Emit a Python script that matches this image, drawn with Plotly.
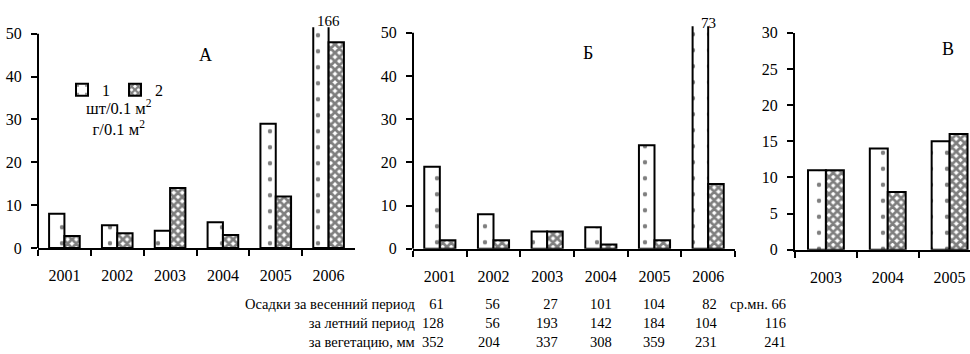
import plotly.graph_objects as go

W, H = 970, 354

years_ab = ["2001", "2002", "2003", "2004", "2005", "2006"]
years_c = ["2003", "2004", "2005"]
a_count = [8, 5.3, 4, 6, 29, 166]
a_mass = [2.8, 3.4, 14, 3, 12, 48]
b_count = [19, 8, 4, 5, 24, 73]
b_mass = [2, 2, 4, 1, 2, 15]
c_count = [11, 14, 15]
c_mass = [11, 8, 16]
panel_labels = ["А", "Б", "В"]
legend_names = ["1", "2"]
unit_lines = ["шт/0.1 м<sup>2</sup>", "г/0.1 м<sup>2</sup>"]
row_labels = ["Осадки за весенний период", "за летний период", "за вегетацию, мм"]
precip_spring = [61, 56, 27, 101, 104, 82]
precip_summer = [128, 56, 193, 142, 184, 104]
precip_veg = [352, 204, 337, 308, 359, 231]
mean_label = "ср.мн."
precip_means = [66, 116, 241]


def px(x):
    return x / W


def py(y):
    return 1 - y / H


SERIF = "Liberation Serif, Times New Roman, serif"
TABLE_FONT = dict(family=SERIF, size=14.5, color="black")

pat1 = dict(shape=".", fgcolor="black", bgcolor="white", size=16, solidity=0.06)
pat2 = dict(shape="x", fgcolor="black", bgcolor="white", size=6, solidity=0.7)

fig = go.Figure()
panels = [
    ("x", "y", years_ab, a_count, a_mass, True),
    ("x2", "y2", years_ab, b_count, b_mass, False),
    ("x3", "y3", years_c, c_count, c_mass, False),
]
for xa, ya, cats, s1, s2, show in panels:
    fig.add_trace(go.Bar(x=cats, y=s1, xaxis=xa, yaxis=ya, name=legend_names[0],
                         showlegend=show, legendgroup="1",
                         marker=dict(color="white", pattern=pat1,
                                     line=dict(color="black", width=2))))
    fig.add_trace(go.Bar(x=cats, y=s2, xaxis=xa, yaxis=ya, name=legend_names[1],
                         showlegend=show, legendgroup="2",
                         marker=dict(color="white", pattern=pat2,
                                     line=dict(color="black", width=2))))

tickfont = dict(family=SERIF, size=16, color="black")
xcommon = dict(type="category", showline=True, linecolor="black", linewidth=2,
               ticks="outside", tickson="boundaries", ticklen=6, tickwidth=2,
               tickcolor="black", tickfont=tickfont, showgrid=False,
               zeroline=False, ticklabelstandoff=12)
ycommon = dict(ticks="outside", ticklen=6, tickwidth=1.5, tickcolor="black",
               tickfont=tickfont, showgrid=False, zeroline=False,
               ticklabelstandoff=6, linecolor="black", linewidth=2)

fig.update_layout(
    width=W, height=H,
    margin=dict(l=0, r=0, t=0, b=0),
    paper_bgcolor="white", plot_bgcolor="white",
    font=dict(family=SERIF, color="black"),
    barmode="group", bargap=0.42, bargroupgap=0,
    xaxis=dict(xcommon, domain=[px(38), px(355)], anchor="y"),
    xaxis2=dict(xcommon, domain=[px(413), px(735)], anchor="y2"),
    xaxis3=dict(xcommon, domain=[px(795), px(970)], anchor="y3", range=[-0.5, 2.33]),
    yaxis=dict(ycommon, domain=[py(252), py(20.25)], range=[0, 51.5], dtick=10,
               anchor="x", showline=False),
    yaxis2=dict(ycommon, domain=[py(253), py(19.2)], range=[0, 51.5], dtick=10,
                anchor="x2", showline=False),
    yaxis3=dict(ycommon, domain=[py(254), py(26)], range=[0, 30], dtick=5,
                anchor="x3", showline=True),
    legend=dict(orientation="h", x=px(62), y=py(86), xanchor="left", yanchor="middle",
                font=dict(family=SERIF, size=16, color="black"),
                bgcolor="rgba(0,0,0,0)", itemwidth=30),
    showlegend=True,
)

# y-axis lines that stop at 50 (bars exceeding are cut)
for xr, yr in [("x domain", "y"), ("x2 domain", "y2")]:
    fig.add_shape(type="line", xref=xr, yref=yr, x0=0, x1=0, y0=0, y1=50,
                  line=dict(color="black", width=2))


def note(text, x, y, font, xanchor="center", xref="paper", align="center"):
    return dict(text=text, x=x, y=y, xref=xref, yref="paper", xanchor=xanchor,
                yanchor="middle", showarrow=False, font=font, borderpad=0, align=align)


ann = []
for lab, (xx, yy) in zip(panel_labels, [(205, 49), (588, 47), (948, 43)]):
    ann.append(note(lab, px(xx), py(yy), dict(family=SERIF, size=18, color="black")))
ann.append(note(str(a_count[-1]), len(years_ab) - 1, py(14),
                dict(family=SERIF, size=15, color="black"), xref="x"))
ann.append(note(str(b_count[-1]), len(years_ab) - 1, py(16),
                dict(family=SERIF, size=15, color="black"), xref="x2"))
# units block (two lines)
ann.append(note("<br>".join(unit_lines), px(119), py(116),
                dict(family=SERIF, size=16.5, color="black")))

# precipitation table, one annotation per column
rows = [precip_spring, precip_summer, precip_veg]
col_right = [445, 502, 559, 613, 667, 719]
table_y = py(331)
ann.append(note("<br>".join(row_labels), px(416), table_y, TABLE_FONT,
                xanchor="right", align="right"))
for j, cx in enumerate(col_right):
    ann.append(note("<br>".join(str(r[j]) for r in rows), px(cx), table_y, TABLE_FONT,
                    xanchor="right", align="right"))
mean_lines = [mean_label + " " + str(precip_means[0])] + [str(m) for m in precip_means[1:]]
ann.append(note("<br>".join(mean_lines), px(787), table_y, TABLE_FONT,
                xanchor="right", align="right"))

fig.update_layout(annotations=ann)
fig.write_html("out.html")
